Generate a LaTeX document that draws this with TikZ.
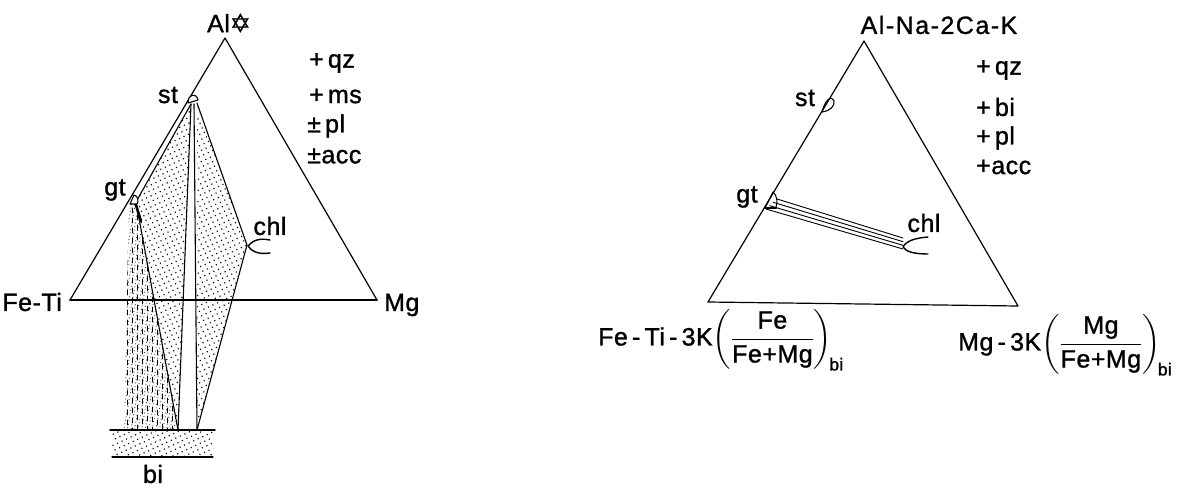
\documentclass[tikz,border=0pt]{standalone}
\usepackage{amsmath}
\usepackage{fontspec}
\setmainfont[FakeBold=1.2]{Liberation Sans}
\newfontfamily\symfont[FakeBold=1.2]{DejaVu Sans}
\usetikzlibrary{patterns,patterns.meta,calc}

\begin{document}
\begin{tikzpicture}[x=1pt,y=-1pt, line join=round, line cap=round,
  lbl/.style={font=\fontsize{25}{28}\selectfont\addfontfeature{LetterSpace=2}, inner sep=0pt},
  ttl/.style={font=\fontsize{25}{28}\selectfont\addfontfeature{LetterSpace=6}, inner sep=0pt},
  edge/.style={line width=1.2pt},
  tie/.style={line width=1.1pt},
  dotfill/.style={pattern={Dots[radius=0.8pt,distance=5pt,angle=25]}},
  lightfill/.style={pattern={Dots[radius=0.6pt,distance=3.5pt,angle=80]}, pattern color=black!75},
]
\useasboundingbox (0,0) rectangle (1190,487);

%================ LEFT DIAGRAM =================
\coordinate (A1) at (225,38);
\coordinate (F1) at (70,300);
\coordinate (M1) at (377,300);

\coordinate (stA) at (191,104);
\coordinate (stB) at (194,104);
\coordinate (stC) at (197,103);
\coordinate (gtP) at (136,202);
\coordinate (gtQ) at (129,204);
\coordinate (chlP) at (247,245);
\coordinate (biL) at (178,430);
\coordinate (biR) at (197,430);
\coordinate (biO) at (124,430);

% stippled fields
\fill[dotfill] (stA) -- (gtP) -- (biL) -- cycle;
\fill[dotfill] (stC) -- (chlP) -- (biR) -- cycle;
\fill[lightfill] (gtQ) -- (gtP) -- (biL) -- (biO) -- cycle;
\begin{scope}
  \clip (gtQ) -- (gtP) -- (biL) -- (biO) -- cycle;
  \foreach \xx/\ph in {127/0,132/2,137/5,142/1,147/4,152/3,157/0,162/6,167/2,172/4}
    \draw[line width=0.6pt, dash pattern=on 5pt off 5pt, dash phase=\ph pt] (\xx,200) -- (\xx,432);
\end{scope}
\fill[dotfill] (112,431) rectangle (213,457);

% triangle
\draw[edge] (F1) -- (A1) -- (M1);
\draw[line width=1.8pt] (F1) -- (M1);

% tie lines
\draw[tie] (stA) -- (gtP);
\draw[tie] (stA) -- (biL);
\draw[tie] (stB) -- (biR);
\draw[tie] (gtP) -- (biL);
\draw[line width=2.6pt] (135,202) -- (141,221);
\draw[tie] (stC) -- (chlP) -- (biR);

% phase marks
\draw[tie, fill=white] (188,103) .. controls (188,94) and (196,92) .. (198,100) -- cycle;
\draw[tie, fill=white] (130,204) -- (134,195) .. controls (138,196) and (139,201) .. (137,204) -- cycle;
\draw[line width=1.4pt] (270,240) .. controls (256,237) and (251,243) .. (248,246) .. controls (251,250) and (256,255) .. (270,253);

% biotite bar
\draw[line width=1.6pt] (110,430) -- (215,430);
\draw[line width=1.3pt] (112,457) -- (213,457);

% labels
\node[lbl] (alab) at (229,23) {Al{\symfont ✡}};
\node[lbl, anchor=east] (fetilab) at (62,302) {Fe-Ti};
\node[lbl, anchor=west] (mglab) at (384,305) {Mg};
\node[lbl] (stlab) at (168,95) {st};
\node[lbl] (gtlab) at (115,190) {gt};
\node[lbl] (chllab) at (270,226) {chl};
\node[lbl] (bilab) at (153,474) {bi};
\node[lbl, anchor=west] (qz1) at (309,63) {+\,qz};
\node[lbl, anchor=west] (ms1) at (309,96) {+\,ms};
\node[lbl, anchor=west] (pl1) at (307,126) {±\,pl};
\node[lbl, anchor=west] (acc1) at (307,156) {±acc};

%================ RIGHT DIAGRAM =================
\coordinate (A2) at (864,41);
\coordinate (F2) at (708,302);
\coordinate (M2) at (1018,306);
\draw[edge] (F2) -- (A2) -- (M2) -- cycle;

% st mark
\draw[tie] (822,112) .. controls (825,100) and (831,95) .. (834,101) .. controls (835,106) and (830,111) .. (822,112);

% gt mark
\coordinate (gt2a) at (777,199);
\coordinate (gt2b) at (766,209);
\coordinate (chl2a) at (903,238);
\coordinate (chl2b) at (903,249);
\draw[tie] (765,208) -- (773,192) .. controls (777,195) and (778,203) .. (776,207);
\draw[line width=2.4pt] (765,208) -- (776,208);

% tie band
\foreach \t in {0,0.333,0.667,1}
  \draw[line width=0.9pt] ($(gt2a)!\t!(gt2b)$) -- ($(chl2a)!\t!(chl2b)$);

% chl mark
\draw[line width=1.4pt] (928,237) .. controls (915,238) and (906,241) .. (903,247) .. controls (906,252) and (915,254) .. (928,254);

% labels
\node[ttl] (alab2) at (939,25) {Al-Na-2Ca-K};
\node[lbl] (stlab2) at (805,98) {st};
\node[lbl] (gtlab2) at (747,197) {gt};
\node[lbl] (chllab2) at (924,223) {chl};
\node[lbl, anchor=west] (qz2) at (976,70) {+\,qz};
\node[lbl, anchor=west] (bi2) at (976,107) {+\,bi};
\node[lbl, anchor=west] (pl2) at (976,138) {+\,pl};
\node[lbl, anchor=west] (acc2) at (976,167) {+acc};

\node[lbl, anchor=west] (felab2) at (598,340) {Fe\,-\,Ti\,-\,3K$\left(\dfrac{\text{Fe}}{\text{Fe+Mg}}\vphantom{\dfrac{\text{F}_g}{\text{F}_g}}\right)_{\!\text{bi}}$};
\node[lbl, anchor=west] (mglab2) at (958,345) {Mg\,-\,3K$\left(\dfrac{\text{Mg}}{\text{Fe+Mg}}\vphantom{\dfrac{\text{F}_g}{\text{F}_g}}\right)_{\!\text{bi}}$};

\end{tikzpicture}
\end{document}
